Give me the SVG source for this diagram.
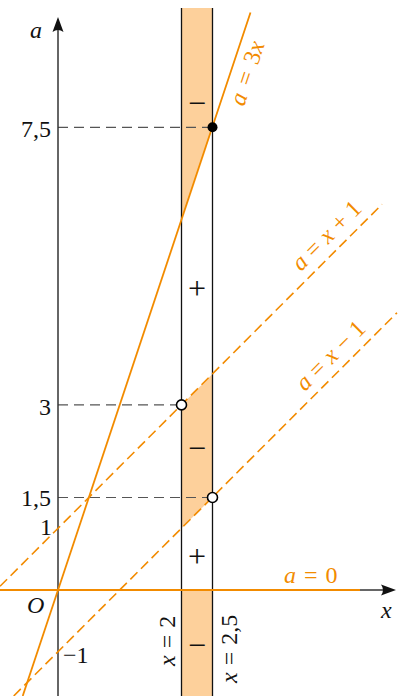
<svg xmlns="http://www.w3.org/2000/svg" width="407" height="696" viewBox="0 0 407 696">
<style>
.t{font-family:"Liberation Serif","Times New Roman",serif;font-size:24px;fill:#111}
.s{font-family:"Liberation Serif","Times New Roman",serif;font-size:32px;fill:#111;text-anchor:middle}
.i{font-style:italic}
.o{fill:#f28b00}
.ax{stroke:#333;stroke-width:1.5;fill:none}
.v{stroke:#111;stroke-width:1.3;fill:none}
.g{stroke:#555;stroke-width:1.2;stroke-dasharray:10 6;fill:none}
.ol{stroke:#f28b00;stroke-width:1.8;fill:none}
.od{stroke:#f28b00;stroke-width:1.6;fill:none;stroke-dasharray:10 5}
.sh{fill:#fdd09b}
</style>
<g id="shading">
<polygon class="sh" points="181.5,8 212.5,8 212.5,127.3 181.5,219.8"/>
<polygon class="sh" points="181.5,404.9 212.5,374 212.5,497.5 181.5,528.3"/>
<rect class="sh" x="181.5" y="590" width="31" height="106"/>
</g>
<g id="guides">
<line class="g" x1="58" y1="127.3" x2="212.5" y2="127.3"/>
<line class="g" x1="58" y1="404.9" x2="181.5" y2="404.9"/>
<line class="g" x1="58" y1="497.5" x2="212.5" y2="497.5"/>
</g>
<g id="verticals">
<line class="v" x1="181.5" y1="8" x2="181.5" y2="696"/>
<line class="v" x1="212.5" y1="8" x2="212.5" y2="696"/>
</g>
<g id="axes">
<line class="ax" x1="0" y1="590" x2="388" y2="590"/>
<path d="M396,590 L381,584.5 Q385,590 381,595.5 Z" fill="#111"/>
<line class="ax" x1="58" y1="696" x2="58" y2="26"/>
<path d="M58,17 L52.5,32 Q58,28 63.5,32 Z" fill="#111"/>
</g>
<g id="connectors">
<line class="ol" x1="0" y1="590" x2="360" y2="590"/>
<line class="ol" x1="22.7" y1="696" x2="250.5" y2="12.5"/>
<line class="od" x1="0" y1="586.3" x2="382" y2="204.3"/>
<line class="od" x1="13.7" y1="696" x2="397" y2="312.7"/>
</g>
<g id="points">
<circle cx="212.5" cy="127.3" r="5" fill="#000"/>
<circle cx="181.5" cy="404.9" r="5" fill="#fff" stroke="#000" stroke-width="1.6"/>
<circle cx="212.5" cy="497.5" r="5" fill="#fff" stroke="#000" stroke-width="1.6"/>
</g>
<g id="labels">
<text class="t i" x="30" y="38">a</text>
<text class="t" x="51" y="137" text-anchor="end">7,5</text>
<text class="t" x="51" y="415" text-anchor="end">3</text>
<text class="t" x="51" y="506" text-anchor="end">1,5</text>
<text class="t" x="52" y="535" text-anchor="end">1</text>
<text class="t i" x="27" y="613">O</text>
<text class="t" x="63" y="663">−1</text>
<text class="t i" x="381" y="618">x</text>
<text class="t o" x="284" y="583" word-spacing="2"><tspan class="i">a</tspan> = 0</text>
<text class="t" transform="translate(175,666) rotate(-90)" word-spacing="1"><tspan class="i">x</tspan> = 2</text>
<text class="t" transform="translate(237,683) rotate(-90)" word-spacing="1"><tspan class="i">x</tspan> = 2,5</text>
<text class="t o" transform="translate(244,107) rotate(-71.57)" word-spacing="3"><tspan class="i">a</tspan> = 3<tspan class="i">x</tspan></text>
<text class="t o" transform="translate(301,272) rotate(-45)" word-spacing="0.5"><tspan class="i">a</tspan> = <tspan class="i">x</tspan> + 1</text>
<text class="t o" transform="translate(305,392) rotate(-45)" word-spacing="0.5"><tspan class="i">a</tspan> = <tspan class="i">x</tspan> − 1</text>
<text class="s" x="197" y="114">−</text>
<text class="s" x="197" y="299">+</text>
<text class="s" x="197" y="459">−</text>
<text class="s" x="197" y="567">+</text>
<text class="s" x="197" y="656">−</text>
</g>
</svg>
